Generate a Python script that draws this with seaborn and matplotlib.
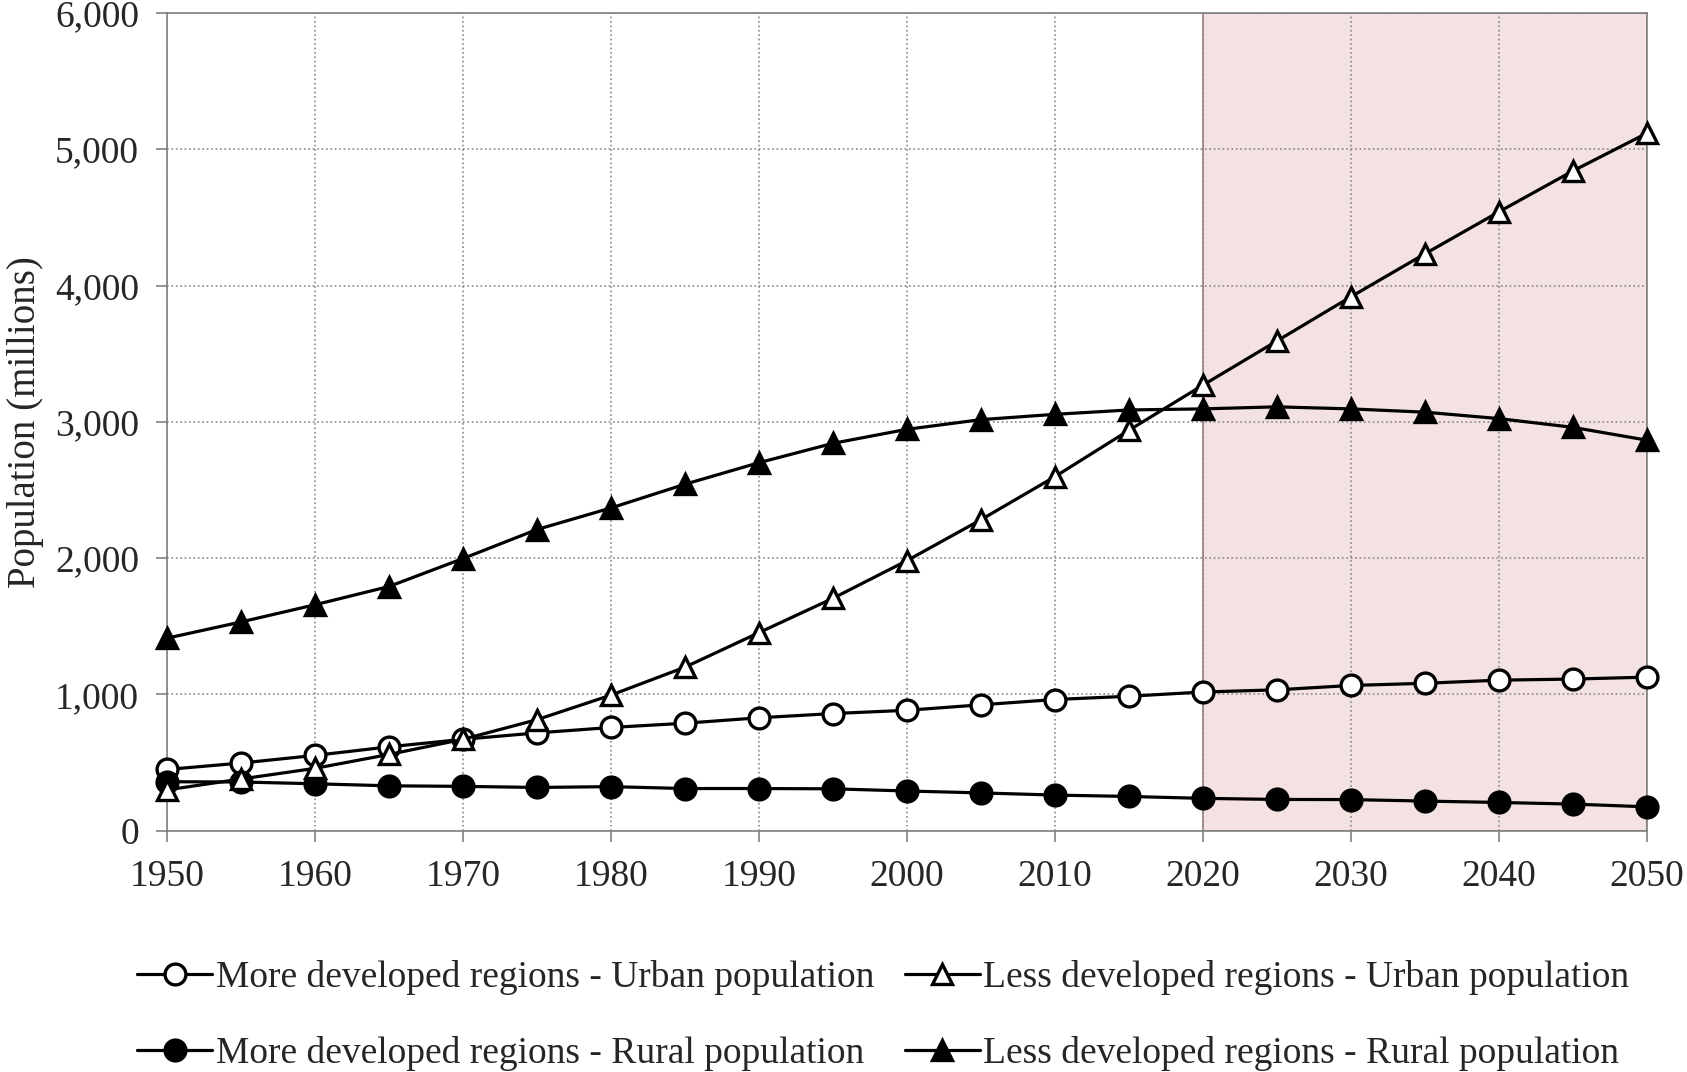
# Urban and rural population, more vs less developed regions, 1950-2050
import pandas as pd
import matplotlib.pyplot as plt
import seaborn as sns
from matplotlib.ticker import FuncFormatter

years = list(range(1950, 2051, 5))

more_dev_urban = [450, 497, 553, 616, 671, 718, 758, 789, 829, 860, 884,
                  924, 963, 987, 1018, 1034, 1066, 1082, 1105, 1113, 1127]
less_dev_urban = [300, 380, 458, 560, 671, 815, 995, 1200, 1453, 1705, 1981,
                  2281, 2597, 2937, 3268, 3592, 3916, 4231, 4539, 4839, 5116]
more_dev_rural = [360, 358, 345, 330, 326, 318, 324, 310, 310, 308, 292,
                  278, 262, 252, 238, 230, 229, 218, 208, 196, 176]
less_dev_rural = [1413, 1532, 1658, 1792, 1997, 2210, 2368, 2542, 2700, 2842, 2945,
                  3016, 3055, 3087, 3095, 3110, 3095, 3071, 3024, 2960, 2866]

labels = ['More developed regions - Urban population',
          'More developed regions - Rural population',
          'Less developed regions - Urban population',
          'Less developed regions - Rural population']

df = pd.DataFrame({
    'year': years * 4,
    'population': more_dev_urban + more_dev_rural + less_dev_urban + less_dev_rural,
    'series': [s for s in labels for _ in years],
})

styles = {
    labels[0]: dict(marker='o', markerfacecolor='white'),
    labels[1]: dict(marker='o', markerfacecolor='black'),
    labels[2]: dict(marker='^', markerfacecolor='white'),
    labels[3]: dict(marker='^', markerfacecolor='black'),
}

sns.set_style('white')
plt.rcParams['font.family'] = ['Liberation Serif', 'DejaVu Serif']

fig = plt.figure(figsize=(16.87, 10.72), dpi=100)
ax = fig.add_axes([0.099, 0.225, 0.877, 0.763])

# projection period
ax.axvspan(2020, 2050, facecolor='#f4e1e1', edgecolor='#9c7f7f', lw=1.2, zorder=0)

for name in labels:
    sub = df[df['series'] == name]
    sns.lineplot(data=sub, x='year', y='population', ax=ax, color='black',
                 lw=2.3, markersize=15, markeredgewidth=2.4, markeredgecolor='black',
                 label=name, zorder=3, clip_on=False, **styles[name])

ax.set_xlim(1950, 2050)
ax.set_ylim(0, 6000)
ax.set_xticks(range(1950, 2051, 10))
ax.set_yticks(range(0, 6001, 1000))
ax.yaxis.set_major_formatter(FuncFormatter(lambda v, p: f'{int(v):,}'))
ax.grid(True, linestyle=':', color='#888888', lw=1.2)
ax.set_axisbelow(True)
for sp in ax.spines.values():
    sp.set_color('#808080')
    sp.set_linewidth(1.2)
ax.tick_params(axis='both', labelsize=27, direction='out', length=8,
               color='#808080', width=1.2, bottom=True, left=True)
ax.tick_params(axis='x', pad=13)
ax.tick_params(axis='y', pad=12)
ax.set_xlabel('')
ax.set_ylabel('Population (millions)', fontsize=28, labelpad=8)

ax.legend(ncol=2, loc='upper left', bbox_to_anchor=(-0.02, -0.158), frameon=False,
          fontsize=27, handlelength=2.0, handletextpad=0.1, columnspacing=0.8,
          labelspacing=1.1, borderaxespad=0, borderpad=0)

fig.savefig('out.png', dpi=100)
